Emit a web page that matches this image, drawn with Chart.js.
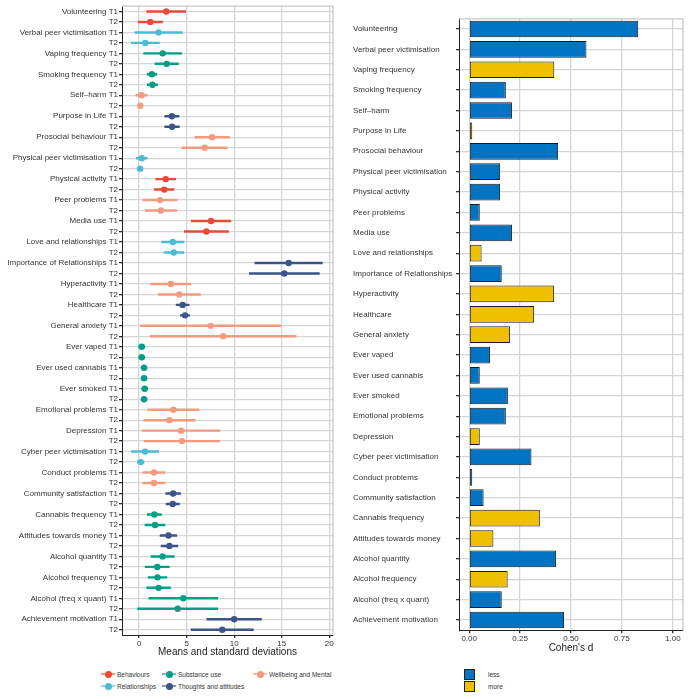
<!DOCTYPE html>
<html>
<head>
<meta charset="utf-8">
<script src="https://cdn.jsdelivr.net/npm/chart.js@4.4.1/dist/chart.umd.min.js"></script>
<style>
  body { margin: 0; background: #fff; font-family: "Liberation Sans", Arial, sans-serif; }
  #wrap { position: relative; width: 692px; height: 699px; overflow: hidden; }
  canvas { position: absolute; top: 0; }
  #means { left: 0; }
  #effect { left: 340px; }
  #groupKey {
    position: absolute; left: 101px; top: 668px;
    display: grid; grid-auto-flow: column;
    grid-template-rows: 12px 12px; grid-template-columns: 61px 91px auto;
    font-size: 6.5px; color: #333;
  }
  #groupKey .item, #dirKey .item { display: flex; align-items: center; white-space: nowrap; }
  #groupKey .mark { position: relative; width: 14px; height: 12px; margin-right: 2px; }
  #groupKey .mark .ln { position: absolute; left: 0; top: 5.3px; width: 14px; height: 1.4px; opacity: 0.6; }
  #groupKey .mark .dot { position: absolute; left: 3.5px; top: 2.5px; width: 7px; height: 7px; border-radius: 50%; }
  #dirKey { position: absolute; left: 464px; top: 668px; font-size: 6.5px; color: #333; }
  #dirKey .item { height: 12px; }
  #dirKey .box { width: 11px; height: 11px; box-sizing: border-box; border: 1px solid #222; margin-right: 13px; }
</style>
</head>
<body>
<div id="wrap">
  <canvas id="means" width="340" height="660"></canvas>
  <canvas id="effect" width="352" height="656"></canvas>
  <div id="groupKey"></div>
  <div id="dirKey"></div>
</div>
<script>
// variables, top to bottom
const variables = [
  "Volunteering", "Verbal peer victimisation", "Vaping frequency", "Smoking frequency",
  "Self\u2013harm", "Purpose in Life", "Prosocial behaviour", "Physical peer victimisation",
  "Physical activity", "Peer problems", "Media use", "Love and relationships",
  "Importance of Relationships", "Hyperactivity", "Healthcare", "General anxiety",
  "Ever vaped", "Ever used cannabis", "Ever smoked", "Emotional problems", "Depression",
  "Cyber peer victimisation", "Conduct problems", "Community satisfaction",
  "Cannabis frequency", "Attitudes towards money", "Alcohol quantity", "Alcohol frequency",
  "Alcohol (freq x quant)", "Achievement motivation"
];

const group = [
  "Behaviours", "Relationships", "Substance use", "Substance use",
  "Wellbeing and Mental", "Thoughts and attitudes", "Wellbeing and Mental", "Relationships",
  "Behaviours", "Wellbeing and Mental", "Behaviours", "Relationships",
  "Thoughts and attitudes", "Wellbeing and Mental", "Thoughts and attitudes", "Wellbeing and Mental",
  "Substance use", "Substance use", "Substance use", "Wellbeing and Mental", "Wellbeing and Mental",
  "Relationships", "Wellbeing and Mental", "Thoughts and attitudes",
  "Substance use", "Thoughts and attitudes", "Substance use", "Substance use",
  "Substance use", "Thoughts and attitudes"
];

const t1Mean = [2.85, 2.05, 2.48, 1.35, 0.25, 3.45, 7.68, 0.28, 2.8, 2.2, 7.57, 3.55, 15.73, 3.33, 4.58,
  7.53, 0.28, 0.52, 0.59, 3.61, 4.41, 0.63, 1.56, 3.58, 1.6, 3.09, 2.47, 1.94, 4.65, 10.0];
const t1Sd = [2.05, 2.5, 2.0, 0.5, 0.6, 0.75, 1.82, 0.58, 1.05, 1.8, 2.08, 1.17, 3.55, 2.13, 0.68,
  7.38, 0.3, 0.3, 0.3, 2.69, 4.1, 1.43, 1.16, 0.78, 0.75, 0.88, 1.23, 0.99, 3.63, 2.87];
const t2Mean = [1.18, 0.65, 2.9, 1.4, 0.12, 3.47, 6.9, 0.1, 2.64, 2.3, 7.08, 3.65, 15.28, 4.24, 4.83,
  8.85, 0.28, 0.52, 0.52, 3.19, 4.51, 0.17, 1.56, 3.54, 1.67, 3.19, 1.91, 2.05, 4.06, 8.75];
const t2Sd = [1.28, 1.48, 1.23, 0.55, 0.2, 0.77, 2.38, 0.15, 1.04, 1.65, 2.33, 1.04, 3.68, 2.22, 0.5,
  7.67, 0.3, 0.3, 0.3, 2.7, 3.98, 0.35, 1.16, 0.7, 1.05, 0.88, 1.27, 1.25, 4.22, 3.28];

const cohensD = [0.83, 0.576, 0.418, 0.18, 0.21, 0.015, 0.437, 0.152, 0.152, 0.052, 0.21, 0.061,
  0.16, 0.416, 0.319, 0.2, 0.102, 0.052, 0.19, 0.18, 0.052, 0.306, 0.015, 0.071,
  0.347, 0.119, 0.427, 0.189, 0.16, 0.466];
const direction = ["less", "less", "more", "less", "less", "more", "less", "less", "less", "less",
  "less", "more", "less", "more", "more", "more", "less", "less", "less", "less",
  "more", "less", "less", "less", "more", "more", "less", "more", "less", "less"];

const groupNames = ["Behaviours", "Relationships", "Substance use", "Thoughts and attitudes", "Wellbeing and Mental"];
const directionNames = ["less", "more"];
const meansTicks = [0, 5, 10, 15, 20];
const dTicks = [0, 0.25, 0.5, 0.75, 1];

// styling
const groupColours = {
  "Behaviours": "#E64B35",
  "Relationships": "#4DBBD5",
  "Substance use": "#00A087",
  "Thoughts and attitudes": "#3C5488",
  "Wellbeing and Mental": "#F39B7F"
};
const dirColours = { less: "#0073C2", more: "#EFC000" };
const gridCol = "#d5d5d5";
const textCol = "#333";

Chart.defaults.font.family = '"Liberation Sans", Arial, Helvetica, sans-serif';

// one row per variable and time point
const rowLabels = variables.flatMap(v => [v + " T1", "T2"]);
const rowMean = variables.flatMap((v, i) => [t1Mean[i], t2Mean[i]]);
const rowSd = variables.flatMap((v, i) => [t1Sd[i], t2Sd[i]]);
const rowColour = variables.flatMap((v, i) => [groupColours[group[i]], groupColours[group[i]]]);

const panelBorder = {
  id: "panelBorder",
  afterDraw(chart) {
    const { ctx, chartArea: a } = chart;
    ctx.save();
    ctx.strokeStyle = "#c8c8c8";
    ctx.lineWidth = 1.3;
    ctx.beginPath();
    ctx.moveTo(a.left, a.top);
    ctx.lineTo(a.right, a.top);
    ctx.lineTo(a.right, a.bottom);
    ctx.stroke();
    ctx.restore();
  }
};

new Chart(document.getElementById("means"), {
  type: "bar",
  data: {
    labels: rowLabels,
    datasets: [
      {
        type: "line",
        indexAxis: "y",
        data: rowMean,
        showLine: false,
        pointRadius: 3.2,
        pointHoverRadius: 3.2,
        pointBackgroundColor: rowColour,
        pointBorderColor: rowColour,
        pointBorderWidth: 0,
        order: 0
      },
      {
        type: "bar",
        indexAxis: "y",
        data: rowMean.map((m, i) => [m - rowSd[i], m + rowSd[i]]),
        backgroundColor: rowColour,
        barThickness: 1.8,
        order: 1
      }
    ]
  },
  options: {
    responsive: false,
    animation: false,
    indexAxis: "y",
    layout: { padding: { top: 6.2, right: 7, left: 0, bottom: 0 } },
    plugins: { legend: { display: false }, tooltip: { enabled: false } },
    scales: {
      x: {
        type: "linear",
        min: -1.8,
        max: 20.4,
        afterBuildTicks: s => { s.ticks = meansTicks.map(v => ({ value: v })); },
        afterFit: s => { s.height = 25; },
        grid: { color: gridCol, lineWidth: 1.3, tickColor: "#333", tickLength: 3 },
        border: { color: "#222", width: 1 },
        ticks: { font: { size: 8 }, color: textCol, padding: 1, maxRotation: 0 },
        title: { display: true, text: "Means and standard deviations", font: { size: 10 }, color: "#222", padding: { top: 0, bottom: 2 } }
      },
      y: {
        type: "category",
        afterFit: s => { s.width = 122; },
        grid: { offset: false, color: gridCol, lineWidth: 1.3, tickColor: "#333", tickLength: 3 },
        border: { color: "#222", width: 1 },
        ticks: { autoSkip: false, font: { size: 8 }, color: textCol, padding: 1 }
      }
    }
  },
  plugins: [panelBorder]
});

new Chart(document.getElementById("effect"), {
  type: "bar",
  data: {
    labels: variables,
    datasets: [{
      data: cohensD,
      backgroundColor: direction.map(d => dirColours[d]),
      borderColor: "#1a1a1a",
      borderWidth: 1,
      borderSkipped: false,
      barPercentage: 0.82,
      categoryPercentage: 1
    }]
  },
  options: {
    responsive: false,
    animation: false,
    indexAxis: "y",
    layout: { padding: { top: 18.8, right: 9, left: 13, bottom: 0 } },
    plugins: { legend: { display: false }, tooltip: { enabled: false } },
    scales: {
      x: {
        type: "linear",
        min: -0.05,
        max: 1.05,
        afterBuildTicks: s => { s.ticks = dTicks.map(v => ({ value: v })); },
        afterFit: s => { s.height = 25.8; },
        grid: { color: gridCol, lineWidth: 1.3, tickColor: "#333", tickLength: 3 },
        border: { color: "#222", width: 1 },
        ticks: { font: { size: 8 }, color: textCol, padding: 1, maxRotation: 0, callback: v => v.toFixed(2) },
        title: { display: true, text: "Cohen's d", font: { size: 10 }, color: "#222", padding: { top: 0, bottom: 2 } }
      },
      y: {
        type: "category",
        afterFit: s => { s.width = 106; },
        grid: { offset: false, color: gridCol, lineWidth: 1.3, tickColor: "#333", tickLength: 3 },
        border: { color: "#222", width: 1 },
        ticks: { autoSkip: false, crossAlign: "far", font: { size: 8 }, color: textCol }
      }
    }
  },
  plugins: [panelBorder]
});

// legends
const gk = document.getElementById("groupKey");
groupNames.forEach(g => {
  const c = groupColours[g];
  gk.insertAdjacentHTML("beforeend",
    `<div class="item"><span class="mark"><span class="ln" style="background:${c}"></span>` +
    `<span class="dot" style="background:${c}"></span></span>${g}</div>`);
});
const dk = document.getElementById("dirKey");
directionNames.forEach(d => {
  dk.insertAdjacentHTML("beforeend",
    `<div class="item"><span class="box" style="background:${dirColours[d]}"></span>${d}</div>`);
});
</script>
</body>
</html>
